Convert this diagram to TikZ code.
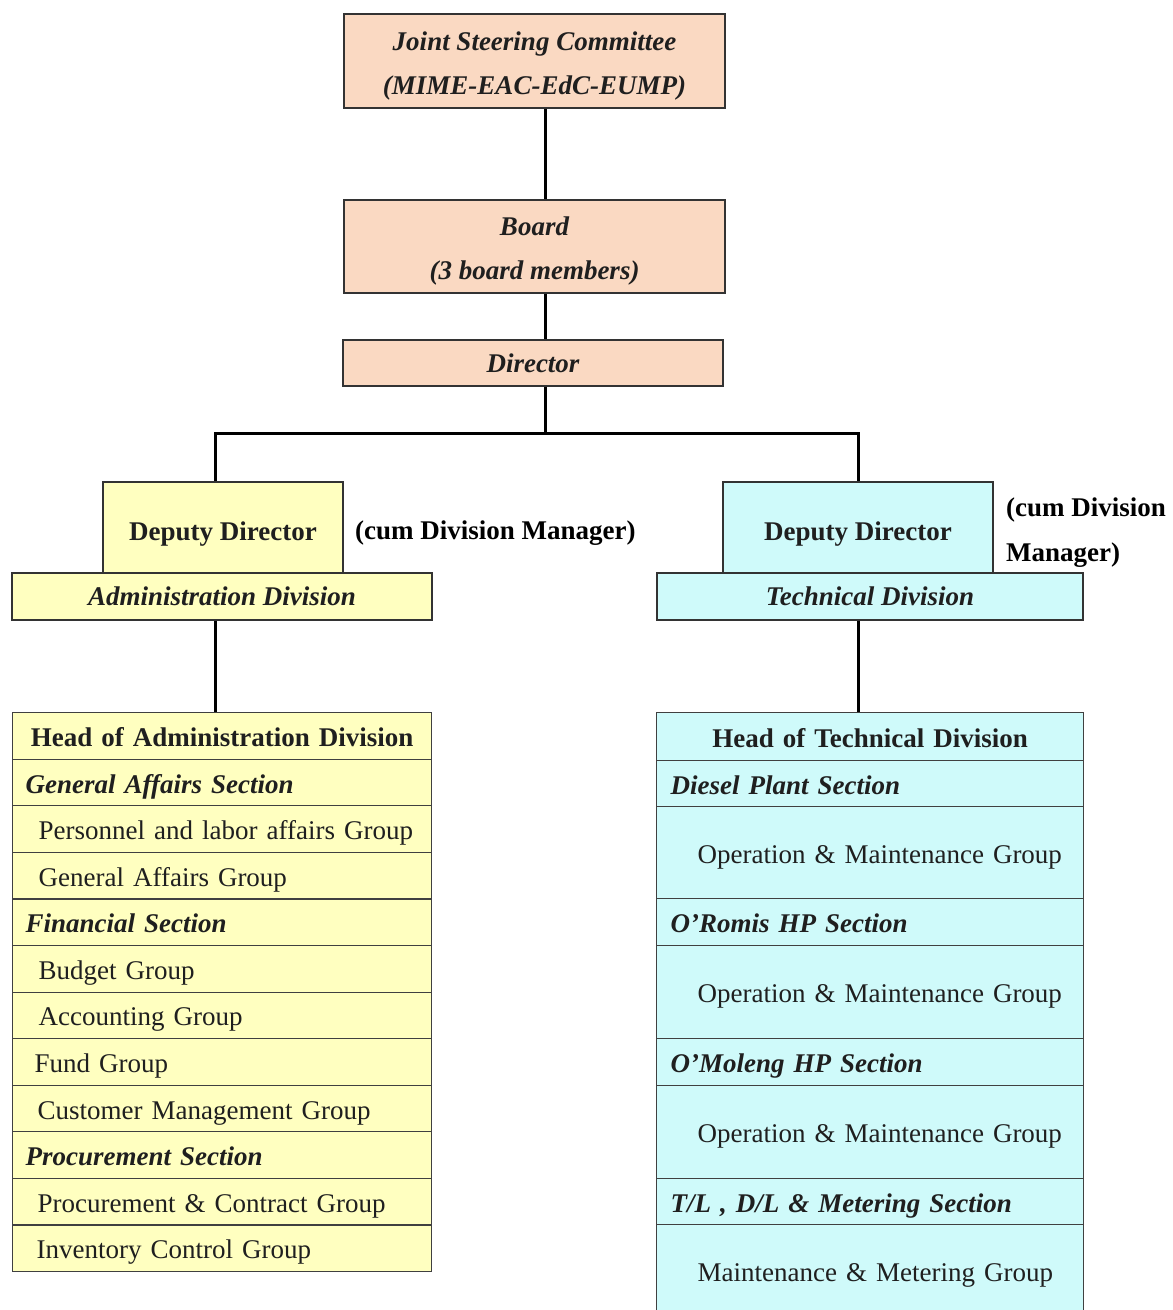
\documentclass[tikz,border=0pt]{standalone}
\usepackage{fontspec}
\setmainfont{Liberation Serif}
\definecolor{peachc}{HTML}{FAD9C2}
\definecolor{yelc}{HTML}{FFFFC0}
\definecolor{cyanc}{HTML}{CFFAFA}
\begin{document}
\begin{tikzpicture}[x=1pt,y=-1pt,
  font=\fontsize{27}{32}\selectfont,
  box/.style={draw=black!80, line width=1.3pt, inner sep=0pt, text=black!88, align=center},
  one/.style={text height=#1, text depth=6pt},
  conn/.style={line width=3pt, draw=black},
  lrow/.style={draw=black!75, line width=1.2pt, fill=yelc, anchor=north west, inner xsep=13pt, inner ysep=0pt,
     text width=393pt, align=left, minimum height=46.6pt, text height=27pt, text depth=6pt, text=black!88},
  rrow/.style={draw=black!75, line width=1.2pt, fill=cyanc, anchor=north west, inner xsep=14pt, inner ysep=0pt,
     text width=399pt, align=left, minimum height=#1, text height=27pt, text depth=6pt, text=black!88},
  bi/.style={font=\fontsize{27}{32}\selectfont\bfseries\itshape},
  lbl/.style={inner sep=0pt, text height=25pt, text depth=6pt}
]
\useasboundingbox (0,0) rectangle (1173,1310);

% top boxes
\node[box, fill=peachc, minimum width=381pt, minimum height=94pt] (jsc) at (534.5,61) {};
\node[inner sep=0pt, align=center, text=black!88,
  font=\fontsize{27}{44}\selectfont\bfseries\itshape] (jsct) at (534.5,66.5)
  {Joint Steering Committee\\(MIME-EAC-EdC-EUMP)};
\node[box, fill=peachc, minimum width=381pt, minimum height=93pt] (board) at (534.5,246.5) {};
\node[inner sep=0pt, align=center, text=black!88,
  font=\fontsize{27}{44}\selectfont\bfseries\itshape] (boardt) at (534.5,251.5)
  {Board\\(3 board members)};
\node[box, one=24pt, fill=peachc, minimum width=380pt, minimum height=46pt, bi] (dir) at (533,363) {Director};

% deputy directors
\node[box, one=31pt, fill=yelc, minimum width=240pt, minimum height=91pt,
  font=\fontsize{27}{32}\selectfont\bfseries] (ddl) at (223,527.5) {Deputy Director};
\node[box, one=24pt, fill=yelc, minimum width=420pt, minimum height=47pt, bi] (adm) at (222,596.5) {Administration Division};
\node[lbl, anchor=west, font=\fontsize{27}{32}\selectfont\bfseries] (cuml) at (355,530) {(cum Division Manager)};

\node[box, one=31pt, fill=cyanc, minimum width=270pt, minimum height=91pt,
  font=\fontsize{27}{32}\selectfont\bfseries] (ddr) at (858,527.5) {Deputy Director};
\node[box, one=24pt, fill=cyanc, minimum width=426pt, minimum height=47pt, bi] (tech) at (870,596.5) {Technical Division};
\node[inner sep=0pt, anchor=west, align=left, font=\fontsize{27}{45}\selectfont\bfseries] (cumr) at (1006,533)
  {(cum Division\\Manager)};

% left table
\node[lrow, text height=28pt, align=center, font=\fontsize{27}{32}\selectfont\bfseries] (lh) at (12,712) {Head of Administration Division};
\node[lrow, bi] (l1) at (12,758.6) {General Affairs Section};
\node[lrow] (l2) at (12,805.2) {\hspace*{13pt}Personnel and labor affairs Group};
\node[lrow] (l3) at (12,851.7) {\hspace*{13pt}General Affairs Group};
\node[lrow, bi] (l4) at (12,898.3) {Financial Section};
\node[lrow] (l5) at (12,944.9) {\hspace*{13pt}Budget Group};
\node[lrow] (l6) at (12,991.5) {\hspace*{13pt}Accounting Group};
\node[lrow] (l7) at (12,1038.1) {\hspace*{9pt}Fund Group};
\node[lrow] (l8) at (12,1084.6) {\hspace*{12pt}Customer Management Group};
\node[lrow, bi] (l9) at (12,1131.2) {Procurement Section};
\node[lrow] (l10) at (12,1177.8) {\hspace*{12pt}Procurement \& Contract Group};
\node[lrow] (l11) at (12,1224.4) {\hspace*{11pt}Inventory Control Group};

% right table
\node[rrow=48pt, text height=28pt, align=center, font=\fontsize{27}{32}\selectfont\bfseries] (rh) at (656,712) {Head of Technical Division};
\node[rrow=46pt, bi] (r1) at (656,760) {Diesel Plant Section};
\node[rrow=92pt] (r2) at (656,806) {\hspace*{27pt}Operation \& Maintenance Group};
\node[rrow=47pt, bi] (r3) at (656,898) {O'Romis HP Section};
\node[rrow=93pt] (r4) at (656,945) {\hspace*{27pt}Operation \& Maintenance Group};
\node[rrow=47pt, bi] (r5) at (656,1038) {O'Moleng HP Section};
\node[rrow=93pt] (r6) at (656,1085) {\hspace*{27pt}Operation \& Maintenance Group};
\node[rrow=46pt, bi] (r7) at (656,1178) {T/L , D/L \& Metering Section};
\node[rrow=89pt, text height=30pt] (r8) at (656,1224) {\hspace*{27pt}Maintenance \& Metering Group};

% connectors
\coordinate (bus) at (545,433);
\draw[conn] ([xshift=10.5pt]jsc.south) -- ([xshift=10.5pt]jsc.south |- board.north);
\draw[conn] ([xshift=10.5pt]board.south) -- ([xshift=10.5pt]board.south |- dir.north);
\draw[conn] ([xshift=12pt]dir.south) -- (bus);
\draw[conn] (bus) -| ([xshift=-8pt]ddl.north);
\draw[conn] (bus) -| (ddr.north);
\draw[conn] ([xshift=-7pt]adm.south) -- ([xshift=-7pt]adm.south |- lh.north);
\draw[conn] ([xshift=-12pt]tech.south) -- ([xshift=-12pt]tech.south |- rh.north);
\end{tikzpicture}
\end{document}
